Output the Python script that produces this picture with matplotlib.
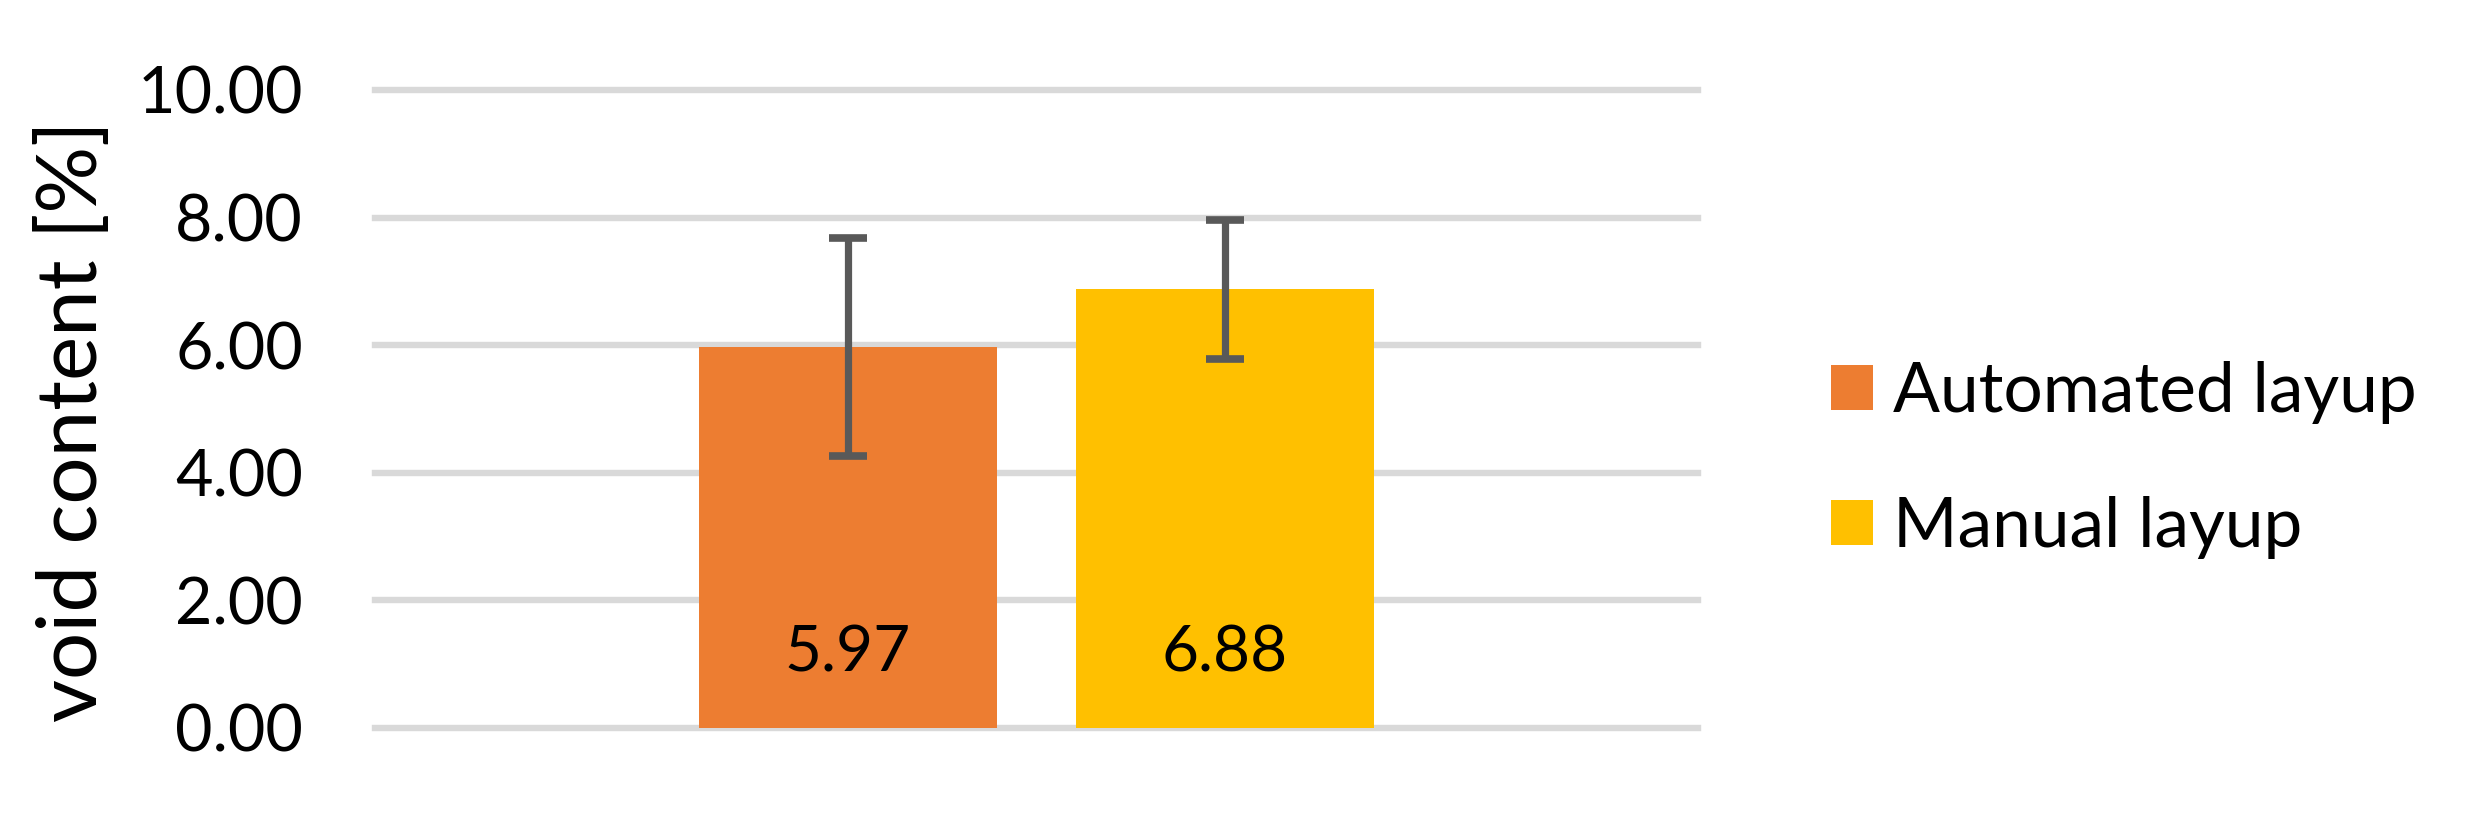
import matplotlib
matplotlib.use("Agg")
import numpy as np
import matplotlib.pyplot as plt
from matplotlib.patches import Patch

# Data
series = ["Automated layup", "Manual layup"]
values = [5.97, 6.88]
errors = [1.71, 1.09]
colors = ["#ED7D31", "#FFC000"]
yticks = [0, 2, 4, 6, 8, 10]

plt.rcParams["font.family"] = ["Lato", "DejaVu Sans"]
FS = 46.5

fig = plt.figure(figsize=(24.70, 8.19), dpi=100)
ax = fig.add_axes([375 / 2470, 1 - 728 / 819, 1323 / 2470, 638 / 819])

xpos = np.array([-0.5, 0.5])
bars = ax.bar(xpos, values, width=0.79, color=colors, zorder=2)
ax.errorbar(xpos, values, yerr=errors, fmt="none", ecolor="#595959",
            elinewidth=5.2, capsize=13.5, capthick=5.5, zorder=3)

# value labels at the inside base of the bars
for x, v in zip(xpos, values):
    ax.annotate(f"{v:.2f}", xy=(x, 0), xytext=(0, 41), textcoords="offset points",
                ha="center", va="baseline", fontsize=46, color="black", zorder=4)

# gridlines
for t in yticks:
    ax.axhline(t, color="#D9D9D9", lw=4.6, zorder=1, clip_on=False)

ax.set_xlim(-1.755, 1.755)
ax.set_ylim(0, 10)
ax.set_yticks(yticks)
ax.set_yticklabels([f"{t:.2f}" for t in yticks], fontsize=FS)
ax.tick_params(axis="y", length=0, pad=52)
ax.set_xticks([])
for s in ax.spines.values():
    s.set_visible(False)

fig.text(74 / 2470, 1 - 421 / 819, "void content [%]", rotation=90,
         ha="center", va="center", fontsize=60)

handles = [Patch(facecolor=c, edgecolor="none") for c in colors]
fig.legend(handles, series, loc="center left", bbox_to_anchor=(1831 / 2470, 1 - 460 / 819),
           frameon=False, fontsize=50, handlelength=0.61, handleheight=0.61,
           handletextpad=0.28, labelspacing=1.04, borderpad=0, borderaxespad=0)

fig.savefig("out.png", dpi=100)
